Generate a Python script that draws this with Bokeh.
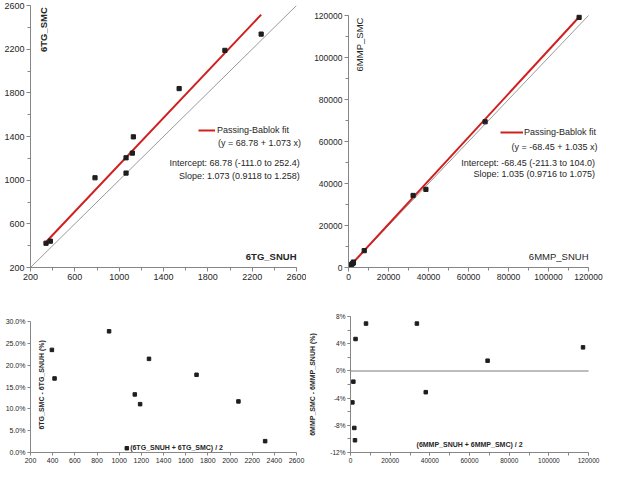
from math import pi
from bokeh.plotting import figure
from bokeh.models import (Range1d, FixedTicker, PrintfTickFormatter, BasicTickFormatter,
                          Label, Legend, LegendItem)
from bokeh.layouts import column, row
from bokeh.embed import file_html
from bokeh.resources import INLINE

# ---------------- data ----------------
# 6TG method comparison (SNUH vs SMC)
tg_snuh = [340, 379, 782, 1062, 1062, 1119, 1128, 1541, 1954, 2281]
tg_smc = [422, 441, 1022, 1205, 1065, 1248, 1397, 1839, 2189, 2338]
tg_intercept = 68.78
tg_slope = 1.073

# 6MMP method comparison (SNUH vs SMC)
mmp_snuh = [982, 1451, 2001, 2375, 2480, 7870, 32300, 38700, 68300, 115300]
mmp_smc = [938, 1429, 1839, 2145, 2600, 8020, 34300, 37200, 69400, 119100]
mmp_intercept = -68.45
mmp_slope = 1.035

# difference plots
tg_mean = [393, 417, 909, 1069, 1141, 1189, 1269, 1698, 2076, 2317]
tg_diff_pct = [23.5, 16.96, 27.76, 0.98, 13.3, 11.07, 21.45, 17.8, 11.7, 2.6]

mmp_mean = [960, 1440, 1920, 2260, 2540, 7820, 33460, 37930, 69100, 117200]
mmp_diff_pct = [-4.63, -1.58, -8.39, -10.2, 4.69, 6.96, 6.96, -3.13, 1.5, 3.46]

# ticks
tg_ticks = [200, 600, 1000, 1400, 1800, 2200, 2600]
tg_minor = [200, 400, 600, 800, 1000, 1200, 1400, 1600, 1800, 2000, 2200, 2400, 2600]
mmp_ticks = [0, 20000, 40000, 60000, 80000, 100000, 120000]
mmp_minor = [0, 10000, 20000, 30000, 40000, 50000, 60000, 70000, 80000, 90000,
             100000, 110000, 120000]
tgba_xticks = [200, 400, 600, 800, 1000, 1200, 1400, 1600, 1800, 2000, 2200, 2400, 2600]
tgba_yticks = [0, 5, 10, 15, 20, 25, 30]
mmpba_yticks = [-12, -8, -4, 0, 4, 8]
mmpba_yminor = [-12, -10, -8, -6, -4, -2, 0, 2, 4, 6, 8]

tg_legend = "Passing-Bablok fit"
tg_eq = "(y = 68.78 + 1.073 x)"
tg_int_txt = "Intercept: 68.78 (-111.0 to 252.4)"
tg_slope_txt = "Slope: 1.073 (0.9118 to 1.258)"
mmp_eq = "(y = -68.45 + 1.035 x)"
mmp_int_txt = "Intercept: -68.45 (-211.3 to 104.0)"
mmp_slope_txt = "Slope: 1.035 (0.9716 to 1.075)"

FONT = "Liberation Sans"
AXC = "#868686"
TXT = "#262626"
RED = "#d01f1f"
PT = "#1e1e1e"
IDC = "#9a9a9a"


def style(p, xt, xm, yt, ym, fs, xb, yb):
    p.xaxis.ticker = FixedTicker(ticks=xt, minor_ticks=xm)
    p.yaxis.ticker = FixedTicker(ticks=yt, minor_ticks=ym)
    p.xaxis.bounds = xb
    p.yaxis.bounds = yb
    for ax in p.axis:
        ax.axis_line_color = AXC
        ax.major_tick_line_color = AXC
        ax.minor_tick_line_color = AXC
        ax.major_tick_in = 0
        ax.major_tick_out = 4
        ax.minor_tick_in = 0
        ax.minor_tick_out = 3
        ax.major_label_text_font = FONT
        ax.major_label_text_font_size = fs
        ax.major_label_text_color = TXT
        ax.major_label_standoff = 2
    p.grid.visible = False
    p.outline_line_color = None


def lab(p, x, y, text, fs="9px", align="left", bold=False, angle=0):
    p.add_layout(Label(x=x, y=y, text=text, text_font=FONT, text_font_size=fs,
                       text_align=align, text_baseline="middle", angle=angle,
                       text_color=TXT, text_font_style="bold" if bold else "normal"))


def fig(w, h, xr, yr, l, r, t, b):
    return figure(width=w, height=h, x_range=Range1d(*xr), y_range=Range1d(*yr),
                  toolbar_location=None, output_backend="svg",
                  min_border_left=l, min_border_right=r, min_border_top=t,
                  min_border_bottom=b)


# ---------------- top-left: 6TG ----------------
p1 = fig(306, 290, (200, 2654), (200, 2600), 30, 4, 5, 23)
style(p1, tg_ticks, tg_minor, tg_ticks, tg_minor, "9px",
      (tg_ticks[0], tg_ticks[-1]), (tg_ticks[0], tg_ticks[-1]))
p1.line([tg_ticks[0], tg_ticks[-1]], [tg_ticks[0], tg_ticks[-1]], line_color=IDC, line_width=1)
fx1 = [min(tg_snuh), max(tg_snuh)]
fy1 = [tg_intercept + tg_slope * v for v in fx1]
r1 = p1.line(fx1, fy1, line_color=RED, line_width=2)
p1.scatter(tg_snuh, tg_smc, marker="square", size=4.2, color=PT)
leg1 = Legend(items=[LegendItem(label=tg_legend, renderers=[r1])], location=(168, 132),
              background_fill_alpha=0, border_line_color=None, padding=0, margin=0,
              glyph_width=17, glyph_height=10, label_height=10, label_standoff=2,
              label_text_font=FONT, label_text_font_size="9px", label_text_color=TXT)
p1.add_layout(leg1)
lab(p1, 1891, 1341, tg_eq)
lab(p1, 2630, 1158, tg_int_txt, align="right")
lab(p1, 2630, 1040, tg_slope_txt, align="right")
lab(p1, 318, 2585, "6TG_SMC", fs="9.5px", align="right", bold=True, angle=pi / 2)
lab(p1, 2600, 300, "6TG_SNUH", fs="9.5px", align="right", bold=True)

# ---------------- top-right: 6MMP ----------------
p2 = fig(297, 290, (0, 125500), (0, 124762), 42, 4, 5, 23)
style(p2, mmp_ticks, mmp_minor, mmp_ticks, mmp_minor, "8.5px",
      (mmp_ticks[0], mmp_ticks[-1]), (mmp_ticks[0], mmp_ticks[-1]))
for ax in p2.axis:
    ax.formatter = BasicTickFormatter(use_scientific=False)
p2.line([mmp_ticks[0], mmp_ticks[-1]], [mmp_ticks[0], mmp_ticks[-1]], line_color=IDC, line_width=1)
fx2 = [min(mmp_snuh), max(mmp_snuh)]
fy2 = [mmp_intercept + mmp_slope * v for v in fx2]
r2 = p2.line(fx2, fy2, line_color=RED, line_width=2)
p2.scatter(mmp_snuh, mmp_smc, marker="square", size=4.2, color=PT)
leg2 = Legend(items=[LegendItem(label=tg_legend, renderers=[r2])], location=(152, 130),
              background_fill_alpha=0, border_line_color=None, padding=0, margin=0,
              glyph_width=23, glyph_height=10, label_height=10, label_standoff=1,
              label_text_font=FONT, label_text_font_size="9px", label_text_color=TXT)
p2.add_layout(leg2)
lab(p2, 81500, 57160, mmp_eq)
lab(p2, 123300, 49600, mmp_int_txt, align="right")
lab(p2, 123300, 44400, mmp_slope_txt, align="right")
lab(p2, 5650, 119000, "6MMP_SMC", fs="9.5px", align="right", angle=pi / 2)
lab(p2, 120000, 5200, "6MMP_SNUH", fs="9.5px", align="right")

# ---------------- bottom-left: 6TG difference ----------------
p3 = fig(306, 175, (200, 2654), (0, 31.15), 30, 4, 26, 13)
style(p3, tgba_xticks, [], tgba_yticks, [], "7px",
      (tgba_xticks[0], tgba_xticks[-1]), (tgba_yticks[0], tgba_yticks[-1]))
for ax in p3.axis:
    ax.major_tick_out = 3
p3.yaxis.formatter = PrintfTickFormatter(format="%.1f%%")
p3.scatter(tg_mean, tg_diff_pct, marker="square", size=3.5, color=PT)
lab(p3, 295, 15.5, "6TG_SMC - 6TG_SNUH (%)", fs="7px", align="center", bold=True, angle=pi / 2)
lab(p3, 1099, 1.2, "(6TG_SNUH + 6TG_SMC) / 2", fs="7px", bold=True)

# ---------------- bottom-right: 6MMP difference ----------------
p4 = fig(297, 175, (0, 125500), (-12, 8), 42, 4, 26, 13)
style(p4, mmp_ticks, mmp_minor, mmpba_yticks, mmpba_yminor, "6.5px",
      (mmp_ticks[0], mmp_ticks[-1]), (mmpba_yticks[0], mmpba_yticks[-1]))
for ax in p4.axis:
    ax.major_tick_out = 3
p4.xaxis.formatter = BasicTickFormatter(use_scientific=False)
p4.yaxis.formatter = PrintfTickFormatter(format="%d%%")
p4.yaxis.axis_label = "6MMP_SMC - 6MMP_SNUH (%)"
p4.yaxis.axis_label_text_font = FONT
p4.yaxis.axis_label_text_font_size = "7px"
p4.yaxis.axis_label_text_font_style = "bold"
p4.yaxis.axis_label_text_color = TXT
p4.yaxis.axis_label_standoff = 11
p4.segment(x0=[mmp_ticks[0]], x1=[mmp_ticks[-1]], y0=[0], y1=[0],
           line_color="#bdbdbd", line_width=2)
p4.scatter(mmp_mean, mmp_diff_pct, marker="square", size=3.5, color=PT)
lab(p4, 60000, -10.8, "(6MMP_SNUH + 6MMP_SMC) / 2", fs="7px", align="center", bold=True)

layout = column(row(p1, p2), row(p3, p4))
open("out.html", "w").write(file_html(layout, INLINE))
